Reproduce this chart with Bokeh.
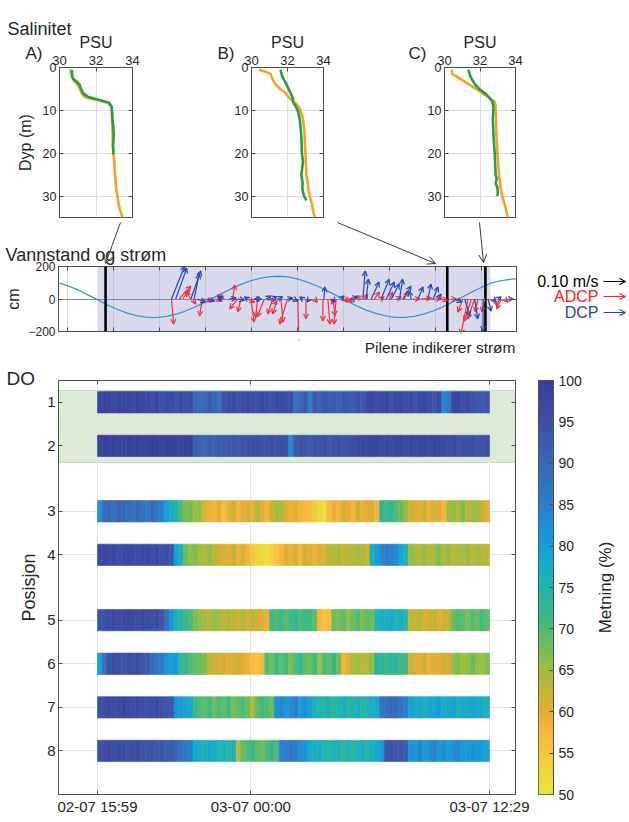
import numpy as np
from bokeh.plotting import figure
from bokeh.layouts import column, row
from bokeh.models import (Range1d, FixedTicker, Label, Arrow, OpenHead, ColumnDataSource,
                          LinearColorMapper, LinearAxis, Span, GridBox)
from bokeh.transform import linear_cmap
from bokeh.embed import file_html
from bokeh.resources import INLINE

FONT = "Liberation Sans"
TXT = "#262626"
AXC = "#4d4d4d"
GRIDC = "#dedede"
ORANGE = "#f5a02a"
GREEN = "#22a043"
RED = "#ee3338"
BLUE = "#2646b8"

# ---------------- Salinity profiles ----------------
SAL_TICKS = [30, 32, 34]
DEPTH_TICKS = [0, 10, 20, 30]

A_ORANGE_DEPTH = [0.5, 1, 2, 3, 4, 5, 6, 6.8, 7.3, 7.7, 8.2, 9, 10, 12, 14, 16, 18, 20, 22, 24, 26, 28, 30, 31, 32, 33, 34, 35]
A_ORANGE_SAL = [30.6, 30.62, 30.68, 30.78, 30.98, 31.12, 31.22, 31.35, 31.7, 32.2, 32.65, 32.82, 32.86, 32.88, 32.9, 32.92, 32.93, 32.96, 33.0, 33.02, 33.06, 33.1, 33.18, 33.2, 33.25, 33.3, 33.38, 33.45]
A_GREEN_DEPTH = [0.5, 1, 2, 2.5, 3, 3.5, 4, 5, 6, 6.8, 7.3, 7.7, 8.2, 9, 10, 12, 14, 16, 18, 20, 20.3]
A_GREEN_SAL = [30.68, 30.68, 30.7, 30.72, 30.85, 31.0, 31.1, 31.18, 31.3, 31.55, 31.95, 32.3, 32.7, 32.85, 32.88, 32.9, 32.95, 32.97, 32.93, 32.95, 32.95]

B_ORANGE_DEPTH = [0.5, 1, 1.5, 2, 3, 4, 5, 6, 7, 8, 9, 10, 12, 15, 18, 20, 22, 25, 27, 28, 30, 32, 34, 35]
B_ORANGE_SAL = [30.42, 30.79, 31.06, 31.1, 31.2, 31.34, 31.6, 31.9, 32.07, 32.35, 32.6, 32.72, 32.86, 32.94, 32.97, 33.0, 33.02, 33.05, 33.12, 33.15, 33.23, 33.36, 33.45, 33.54]
B_GREEN_DEPTH = [0.5, 2, 4, 6, 7, 8, 9, 10, 12, 15, 18, 20, 22, 24, 25, 27, 28, 29, 30, 31]
B_GREEN_SAL = [31.61, 31.7, 31.95, 32.17, 32.28, 32.31, 32.44, 32.57, 32.68, 32.75, 32.79, 32.8, 32.86, 32.8, 32.77, 32.84, 32.82, 32.86, 32.92, 33.05]

C_ORANGE_DEPTH = [0.5, 1.5, 2, 3, 4, 5, 6, 7, 8, 9, 10, 15, 20, 25, 28, 30, 32, 35]
C_ORANGE_SAL = [30.41, 30.43, 30.65, 31.02, 31.4, 31.77, 32.14, 32.51, 32.83, 32.88, 32.88, 32.92, 32.98, 33.07, 33.16, 33.26, 33.39, 33.57]
C_GREEN_DEPTH = [0.5, 2, 3, 4, 5, 6, 7, 8, 9, 10, 12, 15, 18, 20, 22, 25, 26, 27, 28, 29, 30]
C_GREEN_SAL = [31.34, 31.45, 31.58, 31.73, 31.95, 32.27, 32.51, 32.7, 32.75, 32.75, 32.72, 32.75, 32.79, 32.83, 32.85, 32.88, 32.94, 32.88, 32.98, 33.0, 32.98]

# ---------------- Time axis (hours since 02-07 00:00) ----------------
T_START = 15 + 59 / 60   # 02-07 15:59
T_END = 36 + 29 / 60     # 03-07 12:29
T_MID = 24.0             # 03-07 00:00
X_LO, X_HI = 13.944, 37.843
DO_TICK_LABELS = ["02-07 15:59", "03-07 00:00", "03-07 12:29"]
TIDE_TICKS = [14.4, 16.8, 19.2, 21.6, 24.0, 26.4, 28.8, 31.2, 33.6, 36.0]

# ---------------- Water level ----------------
TIDE_HOURS = [14 + 0.5 * i for i in range(49)]
TIDE_CM = [97, 78, 54, 24, -5, -37, -63, -86, -102, -112, -114, -109, -96, -77, -53, -25,
           5, 36, 65, 92, 113, 129, 138, 140, 134, 121, 101, 77, 48, 18, -13, -42,
           -68, -89, -104, -113, -113, -107, -93, -73, -48, -19, 11, 42, 71, 97, 112, 121, 127]

PROFILE_TIMES = [16.40, 34.23, 36.22]

# ---------------- Currents (m/s) ----------------
ADCP_T = [19.84, 20.24, 20.41, 20.85, 20.94, 21.46, 21.54, 22.2, 22.6, 23.03, 23.29, 23.46, 23.81, 23.99,
          24.34, 24.68, 24.94, 25.12, 25.38, 25.55, 25.9, 26.43, 26.86, 27.3, 27.74, 28.0, 28.26, 28.34,
          28.43, 28.86, 29.13, 29.39, 29.74, 29.91, 30.43, 30.78, 31.22, 31.57, 32.0, 32.44, 32.88, 33.4,
          33.83, 34.45, 35.05, 35.31, 35.49, 35.66, 35.84, 36.19, 36.71, 37.06, 37.23]
ADCP_U = [0.01, 0.053, 0.032, -0.023, 0.014, -0.014, 0.036, 0.02, -0.03, 0.01, -0.036, -0.014, 0.032, 0.014,
          -0.01, -0.032, 0.036, -0.023, -0.023, 0.01, -0.036, 0.005, 0.0, 0.014, 0.0, 0.01, 0.01, -0.014,
          -0.01, 0.01, -0.014, -0.023, -0.023, 0.014, 0.023, 0.014, 0.014, 0.023, 0.014, 0.032, 0.045, 0.045,
          0.036, 0.023, -0.023, -0.032, -0.032, -0.032, -0.014, -0.014, 0.014, -0.023, 0.014]
ADCP_V = [-0.114, 0.059, 0.041, 0.032, -0.023, -0.077, -0.01, -0.01, 0.02, 0.064, -0.045, -0.059, -0.014, -0.105,
          -0.082, -0.082, -0.023, -0.068, -0.068, -0.105, -0.114, -0.19, -0.09, -0.014, -0.1, -0.114, -0.077, -0.023,
          -0.114, -0.014, -0.014, -0.014, 0.014, 0.023, 0.032, 0.01, 0.032, 0.01, 0.036, 0.0, 0.005, 0.0,
          -0.005, 0.0, -0.059, -0.16, -0.1, -0.09, -0.059, -0.059, -0.032, -0.045, -0.014]

DCP_T = [19.84, 20.06, 20.85, 21.02, 21.2, 21.72, 22.24, 22.5, 22.85, 23.3, 23.81, 24.16, 24.4, 24.77, 25.0,
         25.38, 25.9, 26.2, 26.69, 27.03, 27.79, 28.26, 28.69, 29.13, 29.83, 30.0, 30.26, 30.78, 31.05,
         31.31, 31.74, 31.92, 32.35, 32.7, 33.22, 33.49, 33.75, 34.62, 35.14, 35.66, 36.1, 36.36, 36.62,
         36.88, 37.41]
DCP_U = [0.06, 0.05, 0.045, 0.023, 0.036, 0.032, 0.023, -0.02, 0.032, 0.03, -0.014, 0.032, -0.02, 0.023, 0.03,
         0.023, 0.023, 0.02, -0.014, -0.01, 0.005, 0.01, 0.014, 0.036, 0.01, 0.01, 0.036, 0.036, 0.036,
         0.036, 0.014, 0.036, -0.01, 0.023, 0.014, 0.023, 0.014, 0.032, 0.023, 0.014, 0.0, 0.014, 0.014,
         0.014, 0.023]
DCP_V = [0.15, 0.14, 0.127, 0.114, -0.014, -0.01, 0.01, 0.005, 0.005, -0.005, 0.01, 0.0, 0.0, 0.014, 0.01,
         0.01, 0.005, -0.01, 0.01, -0.014, 0.055, -0.014, 0.014, 0.01, 0.127, 0.09, 0.077, 0.09, 0.077,
         0.068, 0.09, 0.059, 0.036, 0.055, 0.068, 0.055, 0.023, -0.014, -0.077, -0.09, -0.145, -0.055, -0.014,
         0.01, 0.0]
LEGEND_SPEED = 0.10  # m/s, reference arrow

# ---------------- DO saturation (%) ----------------
ROW_POS = [0, 1, 2.5, 3.5, 5, 6, 7, 8]
ROW_LABELS = ["1", "2", "3", "4", "5", "6", "7", "8"]
DO_1 = [98, 99, 98, 97, 99, 98, 98, 97, 99, 98, 97, 96, 98, 95, 97, 96, 94, 97, 95, 96,
        91, 89, 90, 92, 90, 88,
        94, 96, 97, 95, 96, 97, 96, 95, 97, 96, 94, 96, 97, 96, 95,
        88, 90,
        92, 85, 93, 91, 94, 92, 93, 91, 94, 93, 92, 95, 93,
        97, 98, 96, 97, 98, 95, 97, 98, 96, 97, 94, 97, 98, 96, 93, 97,
        83, 86,
        97, 98, 96, 97, 95, 94, 93, 94]
DO_2 = [99, 100, 99, 100, 99, 99, 100, 99, 100, 99, 99, 100, 99, 99, 100, 99, 99, 98, 99, 99,
        92, 91, 90, 92, 91, 93, 92, 93, 94, 93, 95, 94, 95, 96, 95, 94, 96, 95, 96, 95,
        83,
        93, 95, 94, 92, 95, 94, 96, 93, 95, 96, 94, 95, 96,
        97, 98, 97, 98, 99, 97, 98, 97, 98, 99, 97, 98, 97, 98, 98, 97, 99, 98, 97, 96, 97, 95, 96, 95, 96, 94, 95, 96]
DO_3 = [82,
        89, 90, 88, 91, 90, 89, 87, 90, 88, 86, 89, 87, 85,
        80, 77, 75,
        70, 67, 68, 65, 66,
        61, 59, 58, 60, 57, 59, 62, 58, 60, 61, 59, 64, 60, 58, 62, 65, 64, 61, 59, 60, 58,
        57, 56, 55, 52, 51,
        57, 59, 58, 61, 60, 58, 62, 59, 60, 61, 58,
        72, 71, 73, 70, 68, 66,
        62, 61, 60, 62, 59, 61, 60, 58,
        65, 66, 64, 67, 63, 65, 66, 62, 60]
DO_4 = [97, 98, 97, 98, 96, 97, 98, 97, 96, 97, 98, 96, 97, 95, 96, 94,
        80, 76,
        68, 66, 67, 65, 64, 66, 63,
        62, 61, 60, 62, 59, 61, 58,
        55, 53, 52, 51, 53, 55,
        58, 60, 59, 61, 58, 62, 60, 59, 61, 60,
        64, 63, 65, 62, 64, 63, 65, 64, 62,
        76, 80, 84, 86, 85, 83, 79, 76,
        66, 65, 64, 66, 63, 65, 67, 64, 66, 62, 65, 64, 66, 63, 65, 64, 63]
DO_5 = [94, 95, 96, 97, 96, 97, 98, 97, 96, 97, 96, 95, 96, 94,
        88, 81,
        76, 74, 72, 70,
        67, 66, 65, 64, 66, 65, 63, 64,
        63, 62, 64, 61, 63, 62, 60, 59,
        71, 70, 72, 69, 71, 73, 70, 72, 71, 69,
        58, 56, 57,
        68, 67, 69, 66, 68, 70, 67, 69, 68,
        75, 77, 76, 78, 75, 77, 74,
        63, 62, 64, 61, 62, 63, 60, 62, 63,
        68, 70, 69, 67, 70, 68, 71, 69]
DO_6 = [80, 88,
        95, 96, 95, 94, 96, 95, 96, 94, 93,
        89, 87, 85, 82, 80, 81,
        73, 72, 70, 69, 68, 67,
        63, 62, 61, 62, 60, 61, 62, 60, 59,
        57, 56, 58,
        70, 68, 72, 69, 71, 67, 70, 73, 69, 68, 71, 66, 70, 69, 72, 68,
        58, 60,
        64, 65, 63, 64, 66,
        74, 73, 72, 74, 73, 71, 72,
        62, 61, 60, 62, 59, 61, 60, 62, 61,
        66, 67, 65, 66, 68, 66, 65, 67]
DO_7 = [95, 96, 97, 96, 97, 98, 97, 96, 97, 96, 95, 96, 97, 95, 94, 93,
        82, 80, 79, 78,
        72, 70, 69, 71, 68, 70, 69, 71, 67, 69, 70, 68, 64, 69, 71, 70, 68,
        82, 84, 81, 83, 85, 80, 82, 79,
        76, 75, 74, 76, 73, 75, 77, 74, 75, 76, 74, 75, 76, 78,
        86, 88, 90, 89, 87, 85,
        79, 77, 78, 76, 79, 78, 80, 77, 78, 79, 76, 78, 77, 79, 78, 77, 76]
DO_8 = [95, 96, 97, 96, 97, 96, 95, 96, 97, 95, 94, 95, 93, 94, 92, 93, 90, 88,
        86, 85,
        78, 77, 76, 78, 77, 75, 76, 74, 77,
        64,
        69, 70, 71, 69, 68, 70, 72, 70,
        84, 85, 86, 85, 83, 82,
        78, 76, 77, 75, 74, 76, 75, 73, 76, 74, 75, 77, 74, 76, 78, 80,
        94, 95, 93, 94, 92,
        82, 81, 84, 80, 82, 85, 81, 83, 80, 82, 84, 81, 80, 82, 81, 80, 79]
DO_ROWS = [DO_1, DO_2, DO_3, DO_4, DO_5, DO_6, DO_7, DO_8]
CBAR_TICKS = [50, 55, 60, 65, 70, 75, 80, 85, 90, 95, 100]

# colour scale (flipped parula as printed)
CMAP_VALUES = [50, 54, 57, 60, 62, 65, 68, 71, 75, 78, 81, 85, 90, 95, 100]
CMAP_COLORS = ["#e6e43a", "#f1cf3d", "#f9b940", "#e4ae36", "#cbb234", "#a0bd40", "#6cbd5c", "#40b982",
               "#20b4ad", "#18a8cf", "#1898dc", "#2c7ecb", "#3a66b6", "#3d51a6", "#383f98"]


def build_palette(n=256):
    rgb = np.array([[int(c[i:i + 2], 16) for i in (1, 3, 5)] for c in CMAP_COLORS], dtype=float)
    out = []
    for v in np.linspace(50, 100, n):
        r, g, b = (np.interp(v, CMAP_VALUES, rgb[:, k]) for k in range(3))
        out.append("#%02x%02x%02x" % (int(round(r)), int(round(g)), int(round(b))))
    return out


PALETTE = build_palette()


def style_axis(ax, tick_size, label_size, hidden=False):
    ax.major_label_text_font = FONT
    ax.major_label_text_color = TXT
    ax.major_label_text_font_size = tick_size
    ax.axis_label_text_font = FONT
    ax.axis_label_text_font_style = "normal"
    ax.axis_label_text_color = TXT
    ax.axis_label_text_font_size = label_size
    ax.major_tick_in = 4
    ax.major_tick_out = 0
    ax.minor_tick_line_color = None
    ax.axis_line_color = AXC
    ax.major_tick_line_color = AXC
    ax.major_label_standoff = 0 if hidden else 3
    if hidden:
        ax.major_label_overrides = {t: "" for t in ax.ticker.ticks}


def frame_style(p):
    p.outline_line_color = AXC
    p.outline_line_alpha = 1
    p.background_fill_color = "white"
    p.border_fill_color = "white"


def add_hidden_axis(p, ticker, side):
    ax = LinearAxis(ticker=ticker)
    style_axis(ax, "10px", "10px", hidden=True)
    p.add_layout(ax, side)
    return ax


def make_profile(width, bl, br, od, osal, gd, gsal, show_ylabel):
    p = figure(width=width, height=220, x_range=Range1d(30, 34), y_range=Range1d(35, 0),
               x_axis_location="above", toolbar_location=None, output_backend="svg",
               min_border_left=bl, min_border_right=br, min_border_top=67, min_border_bottom=3)
    xt = FixedTicker(ticks=SAL_TICKS)
    yt = FixedTicker(ticks=DEPTH_TICKS)
    xax, yax = p.above[0], p.left[0]
    xax.ticker = xt
    yax.ticker = yt
    p.xgrid.ticker = xt
    p.ygrid.ticker = yt
    p.grid.grid_line_color = GRIDC
    p.line(osal, od, line_color=ORANGE, line_width=2.6)
    p.line(gsal, gd, line_color=GREEN, line_width=2.6)
    style_axis(xax, "13px", "16px")
    style_axis(yax, "12.5px", "16px")
    xax.axis_label = "PSU"
    xax.axis_label_standoff = 2
    if show_ylabel:
        yax.axis_label = "Dyp (m)"
        yax.axis_label_standoff = 6
    add_hidden_axis(p, yt, "right")
    frame_style(p)
    return p


pA = make_profile(200, 59, 68, A_ORANGE_DEPTH, A_ORANGE_SAL, A_GREEN_DEPTH, A_GREEN_SAL, True)
pB = make_profile(190, 51, 67, B_ORANGE_DEPTH, B_ORANGE_SAL, B_GREEN_DEPTH, B_GREEN_SAL, False)
pC = make_profile(238, 54, 113, C_ORANGE_DEPTH, C_ORANGE_SAL, C_GREEN_DEPTH, C_GREEN_SAL, False)

# ---------------- Water level + currents ----------------
KX = 11.5    # hours per (m/s) on the quiver
KY = 1354.0  # cm per (m/s) on the quiver

pv = figure(width=628, height=132, x_range=Range1d(X_LO, X_HI), y_range=Range1d(-200, 200),
            toolbar_location=None, output_backend="svg",
            min_border_left=58, min_border_right=112, min_border_top=46, min_border_bottom=21)
vxt = FixedTicker(ticks=TIDE_TICKS)
vyt = FixedTicker(ticks=[-200, 0, 200])
vx, vy = pv.below[0], pv.left[0]
vx.ticker = vxt
vy.ticker = vyt
pv.xgrid.ticker = vxt
pv.ygrid.ticker = vyt
style_axis(vx, "10px", "10px", hidden=True)
style_axis(vy, "12px", "16px")
vy.axis_label = "cm"
vy.axis_label_standoff = 3
add_hidden_axis(pv, vxt, "above")
add_hidden_axis(pv, vyt, "right")
pv.xgrid.grid_line_color = "#a9a9c4"
pv.xgrid.grid_line_alpha = 0.45
pv.ygrid.grid_line_color = "#7c7c88"
pv.ygrid.grid_line_alpha = 0.9
frame_style(pv)

pv.quad(left=[T_START], right=[T_END], bottom=[-200], top=[200], fill_color="#d9d9ee",
        line_color=None, level="image")
pv.line(TIDE_HOURS, TIDE_CM, line_color="#3f95d3", line_width=1.3)
for t in PROFILE_TIMES:
    pv.add_layout(Span(location=t, dimension="height", line_color="black", line_width=2.6))

src_r = ColumnDataSource(dict(x0=ADCP_T, y0=[0.0] * len(ADCP_T),
                              x1=[t + u * KX for t, u in zip(ADCP_T, ADCP_U)],
                              y1=[v * KY for v in ADCP_V]))
src_b = ColumnDataSource(dict(x0=DCP_T, y0=[0.0] * len(DCP_T),
                              x1=[t + u * KX for t, u in zip(DCP_T, DCP_U)],
                              y1=[v * KY for v in DCP_V]))
pv.add_layout(Arrow(end=OpenHead(size=5, line_color=RED, line_width=1.2), source=src_r,
                    x_start="x0", y_start="y0", x_end="x1", y_end="y1", line_color=RED, line_width=1.2))
pv.add_layout(Arrow(end=OpenHead(size=5, line_color=BLUE, line_width=1.2), source=src_b,
                    x_start="x0", y_start="y0", x_end="x1", y_end="y1", line_color=BLUE, line_width=1.2))

# ---------------- DO heat strips ----------------
pdo = figure(width=530, height=468, x_range=Range1d(X_LO, X_HI), y_range=Range1d(9, -0.5),
             toolbar_location=None, output_backend="svg",
             min_border_left=58, min_border_right=15, min_border_top=28, min_border_bottom=26)
dxt = FixedTicker(ticks=[T_START, T_MID, T_END])
dyt = FixedTicker(ticks=ROW_POS)
dx, dy = pdo.below[0], pdo.left[0]
dx.ticker = dxt
dy.ticker = dyt
pdo.xgrid.ticker = dxt
pdo.ygrid.ticker = dyt
style_axis(dx, "15px", "16px")
style_axis(dy, "15px", "18px")
dx.major_label_overrides = {T_START: DO_TICK_LABELS[0], T_MID: DO_TICK_LABELS[1], T_END: DO_TICK_LABELS[2]}
dy.major_label_overrides = {p: l for p, l in zip(ROW_POS, ROW_LABELS)}
dy.axis_label = "Posisjon"
add_hidden_axis(pdo, dxt, "above")
add_hidden_axis(pdo, dyt, "right")
pdo.grid.grid_line_color = "#e4e4e4"
frame_style(pdo)

pdo.quad(left=[X_LO], right=[X_HI], top=[-0.27], bottom=[1.38], fill_color="#dcebd8",
         line_color="#bcdcb6", line_width=1, level="image")

L, R, TOP, BOT, V = [], [], [], [], []
for pos, vals in zip(ROW_POS, DO_ROWS):
    w = (T_END - T_START) / len(vals)
    for i, v in enumerate(vals):
        L.append(T_START + i * w)
        R.append(T_START + (i + 1) * w)
        TOP.append(pos - 0.245)
        BOT.append(pos + 0.245)
        V.append(v)
do_src = ColumnDataSource(dict(left=L, right=R, top=TOP, bottom=BOT, v=V))
cmap = linear_cmap("v", PALETTE, 50, 100)
pdo.quad(left="left", right="right", top="top", bottom="bottom", source=do_src,
         fill_color=cmap, line_color=cmap, line_width=0.6)

# ---------------- colour bar ----------------
mapper = LinearColorMapper(palette=PALETTE, low=50, high=100)
pcb = figure(width=98, height=468, x_range=Range1d(0, 1), y_range=Range1d(50, 100),
             x_axis_location=None, y_axis_location="right", toolbar_location=None, output_backend="svg",
             min_border_left=8, min_border_right=75, min_border_top=28, min_border_bottom=26)
grad = np.linspace(50, 100, 256).reshape(256, 1)
pcb.image(image=[grad], x=0, y=50, dw=1, dh=50, color_mapper=mapper)
cb_ax = pcb.right[0]
cb_ax.ticker = FixedTicker(ticks=CBAR_TICKS)
style_axis(cb_ax, "14px", "17px")
cb_ax.major_label_standoff = 5
pcb.grid.visible = False
frame_style(pcb)

base = column(row(pA, pB, pC), pv, row(pdo, pcb))

# ---------------- transparent overlay for the free texts / connectors ----------------
ov = figure(width=628, height=820, x_range=Range1d(0, 628), y_range=Range1d(820, 0),
            x_axis_location=None, y_axis_location=None, toolbar_location=None,
            output_backend="svg", min_border=0)
ov.grid.visible = False
ov.background_fill_color = None
ov.border_fill_color = None
ov.outline_line_color = None


def otext(x, y, text, size, color=TXT, align="left", baseline="alphabetic", angle=0):
    ov.add_layout(Label(x=x, y=y, text=text, text_font=FONT, text_font_size=size, text_color=color,
                        text_align=align, text_baseline=baseline, angle=angle, angle_units="deg"))


otext(7, 28, "Salinitet", "18px")
otext(25, 53, "A)", "17px")
otext(217, 53, "B)", "17px")
otext(408, 53, "C)", "17px")
otext(5, 254, "Vannstand og strøm", "18px")
otext(515, 347, "Pilene indikerer strøm", "15.5px", align="right")
otext(6, 378, "DO", "19px")
otext(605, 587, "Metning (%)", "17px", align="center", baseline="middle", angle=90)

# connectors from the profile panels to their time lines
for (xs, ys, xe, ye) in [(120, 222, 105, 263), (337, 222, 435, 263), (479, 222, 483, 262)]:
    ov.add_layout(Arrow(end=OpenHead(size=8, line_color="#3a3a3a", line_width=1),
                        x_start=xs, y_start=ys, x_end=xe, y_end=ye, line_color="#3a3a3a", line_width=1))

# quiver key (arrow length = LEGEND_SPEED at the quiver's scale: 19.12 px per hour)
key_len = LEGEND_SPEED * KX * 19.12
for y, txt, col in [(281, "0.10 m/s", "black"), (296, "ADCP", "#ff2020"), (312, "DCP", BLUE)]:
    otext(598, y, txt, "16px", color=col, align="right", baseline="middle")
    ov.add_layout(Arrow(end=OpenHead(size=6, line_color=col, line_width=1.2),
                        x_start=603, y_start=y, x_end=603 + key_len, y_end=y,
                        line_color=col, line_width=1.2))

layout = GridBox(children=[(base, 0, 0), (ov, 0, 0)])
open("out.html", "w").write(file_html(layout, INLINE))
